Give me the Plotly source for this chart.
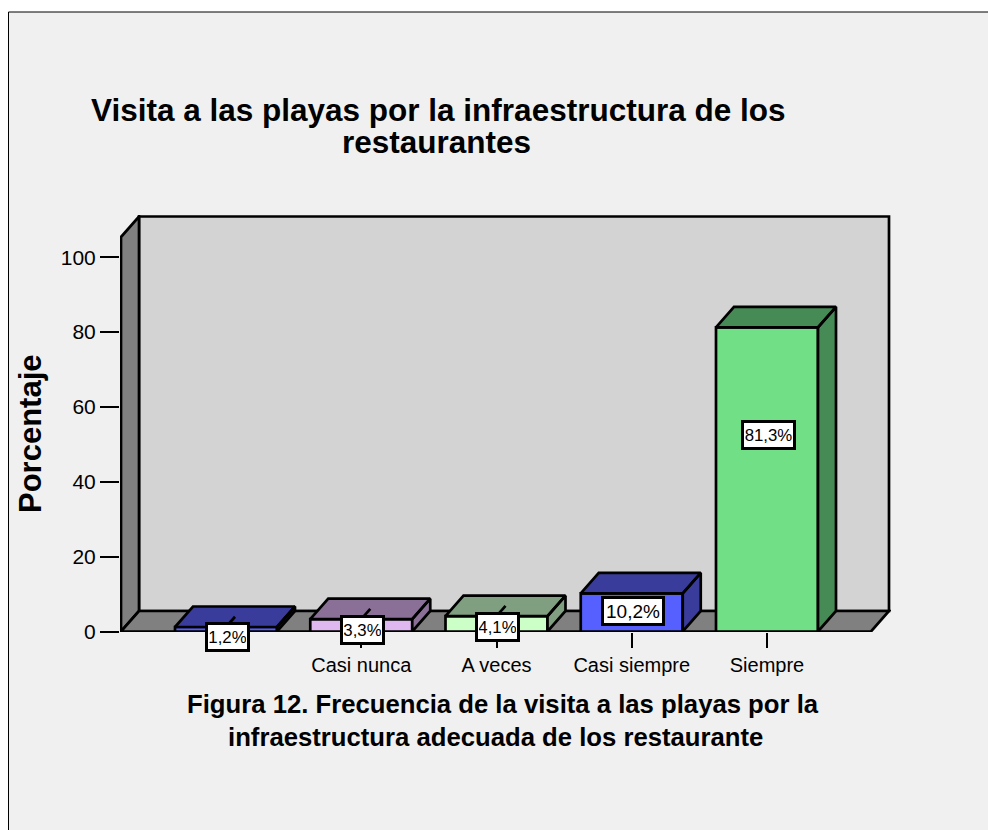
import plotly.graph_objects as go

categories = ["", "Casi nunca", "A veces", "Casi siempre", "Siempre"]
percentages = [1.2, 3.3, 4.1, 10.2, 81.3]
value_labels = ["1,2%", "3,3%", "4,1%", "10,2%", "81,3%"]
y_ticks = [0, 20, 40, 60, 80, 100]

# styling of the bars and their label boxes
label_levels = [-1.6, 0.3, 1.1, 5.4, 52.4]
label_widths = [37, 37, 37, 56, 47]
label_fonts = [16.8, 16.8, 16.8, 19, 16.8]
front_colors = ["#5660FF", "#E0B8F0", "#CCFFC8", "#5660FF", "#70DF85"]
depth_colors = ["#3A3C9C", "#8A7096", "#7F9F80", "#3A3C9C", "#468A55"]

WIDTH, HEIGHT = 988, 830
PX_X, PX_Y = 135.25, 3.742      # pixels per category / per percent
X0_PX, Y0_PX = 226.0, 631.5     # where category 0 / value 0 land
DX, DY = 18 / PX_X, 20.5 / PX_Y  # 3d depth in axis units
BAR_W = 102 / PX_X
LINE_W = 2.7

LEFT, RIGHT = 120, 891          # plot area in pixels
TOP, BOTTOM = 215, 632


def paper_x(px):
    return px / WIDTH


def paper_y(px):
    return 1 - px / HEIGHT


def axis_x(px):
    return (px - X0_PX) / PX_X


def axis_y(px):
    return (Y0_PX - px) / PX_Y


def wall(xs, ys, color):
    path = "M " + " L ".join(f"{x} {y}" for x, y in zip(xs, ys)) + " Z"
    return dict(type="path", path=path, xref="x", yref="y", layer="below",
                fillcolor=color, line=dict(color="black", width=LINE_W))


wall_l, wall_r = axis_x(121), axis_x(871)
wall_top = axis_y(237)

fig = go.Figure()

# front of the bars
fig.add_trace(go.Bar(
    x=list(range(len(percentages))), y=percentages, width=BAR_W,
    marker=dict(color=front_colors, line=dict(color="black", width=LINE_W)),
    cliponaxis=False, hoverinfo="skip", showlegend=False,
))

# top and side faces
for i, (v, c) in enumerate(zip(percentages, depth_colors)):
    l, r = i - BAR_W / 2, i + BAR_W / 2
    fig.add_trace(go.Scatter(
        x=[l, l + DX, r + DX, r, l, None, r, r + DX, r + DX, r, r],
        y=[v, v + DY, v + DY, v, v, None, v, v + DY, DY, 0, v],
        mode="lines", fill="toself", fillcolor=c,
        line=dict(color="black", width=LINE_W), cliponaxis=False,
        hoverinfo="skip", showlegend=False,
    ))

# leader lines from the small labels to the top of the bar
for i, v in enumerate(percentages[:3]):
    fig.add_trace(go.Scatter(
        x=[i, i + DX / 2], y=[v, v + DY / 2], mode="lines",
        line=dict(color="black", width=LINE_W), cliponaxis=False,
        hoverinfo="skip", showlegend=False,
    ))

shapes = [
    dict(type="rect", xref="paper", yref="paper", x0=paper_x(8.5), x1=1.02,
         y0=-0.02, y1=paper_y(12), layer="below", fillcolor="#F0F0F0",
         line=dict(color="black", width=1)),
    wall([wall_l + DX, wall_r + DX, wall_r + DX, wall_l + DX],
         [DY, DY, wall_top + DY, wall_top + DY], "#D3D3D3"),
    wall([wall_l, wall_l + DX, wall_l + DX, wall_l],
         [0, DY, wall_top + DY, wall_top], "#808080"),
    wall([wall_l, wall_l + DX, wall_r + DX, wall_r],
         [0, DY, DY, 0], "#808080"),
]

annotations = []
for i, (txt, lev) in enumerate(zip(value_labels, label_levels)):
    # a label below the axis range would be hidden, so shift it in pixels instead
    annotations.append(dict(
        x=i + 0.01, y=max(lev, 0), yshift=min(lev, 0) * PX_Y,
        xref="x", yref="y", text=txt, showarrow=False,
        width=label_widths[i], height=22, align="center", valign="middle",
        font=dict(size=label_fonts[i], color="black"),
        bgcolor="white", bordercolor="black", borderwidth=3, borderpad=1,
    ))

# separate lines: the original has its own line spacing and centring
for txt, cx, cy, size in [
    ("Visita a las playas por la infraestructura de los", 438, 110, 31.5),
    ("restaurantes", 436, 142, 31.5),
    ("Figura 12. Frecuencia de la visita a las playas por la", 503, 704, 25.7),
    ("infraestructura adecuada de los restaurante", 496, 737, 25.7),
]:
    annotations.append(dict(
        x=paper_x(cx), y=paper_y(cy), xref="paper", yref="paper",
        text=f"<b>{txt}</b>", xanchor="center", yanchor="middle",
        showarrow=False, font=dict(size=size, color="black"),
    ))

annotations.append(dict(
    x=paper_x(30), y=paper_y(434), xref="paper", yref="paper",
    text="<b>Porcentaje</b>", textangle=-90, xanchor="center", yanchor="middle",
    showarrow=False, font=dict(size=31, color="black"),
))

fig.update_layout(
    width=WIDTH, height=HEIGHT, margin=dict(l=0, r=0, t=0, b=0),
    paper_bgcolor="white", plot_bgcolor="rgba(0,0,0,0)",
    font=dict(family="Liberation Sans, Arial, sans-serif", color="black"),
    shapes=shapes, annotations=annotations, showlegend=False,
    xaxis=dict(
        domain=[paper_x(LEFT), paper_x(RIGHT)],
        range=[axis_x(LEFT), axis_x(RIGHT)], automargin=False,
        tickmode="array", tickvals=list(range(len(categories))), ticktext=categories,
        ticks="outside", ticklen=15, tickwidth=2.4, tickcolor="black",
        tickfont=dict(size=20), showgrid=False, zeroline=False, showline=False,
    ),
    yaxis=dict(
        domain=[paper_y(BOTTOM), paper_y(TOP)],
        range=[axis_y(BOTTOM), axis_y(TOP)], automargin=False,
        tickmode="array", tickvals=y_ticks,
        ticks="outside", ticklen=19, tickwidth=2.4, tickcolor="black",
        tickfont=dict(size=21), showgrid=False, zeroline=False, showline=False,
    ),
)

# the browser's default body margin would push the figure off the page
fig.write_html("out.html", post_script="document.body.style.margin = '0';",
               config={"displayModeBar": False})
